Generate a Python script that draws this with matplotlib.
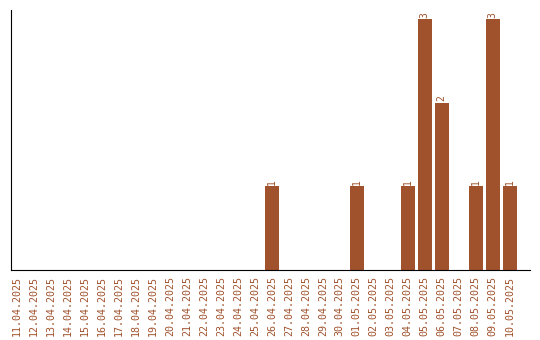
import matplotlib
matplotlib.use("Agg")
import matplotlib.pyplot as plt
import numpy as np

# Données : nombre d'événements par jour
dates = ["11.04.2025", "12.04.2025", "13.04.2025", "14.04.2025", "15.04.2025",
         "16.04.2025", "17.04.2025", "18.04.2025", "19.04.2025", "20.04.2025",
         "21.04.2025", "22.04.2025", "23.04.2025", "24.04.2025", "25.04.2025",
         "26.04.2025", "27.04.2025", "28.04.2025", "29.04.2025", "30.04.2025",
         "01.05.2025", "02.05.2025", "03.05.2025", "04.05.2025", "05.05.2025",
         "06.05.2025", "07.05.2025", "08.05.2025", "09.05.2025", "10.05.2025"]
counts = [0, 0, 0, 0, 0, 0, 0, 0, 0, 0,
          0, 0, 0, 0, 0, 1, 0, 0, 0, 0,
          1, 0, 0, 1, 3, 2, 0, 1, 3, 1]

color = "#A0522D"
plt.rcParams["font.family"] = ["DejaVu Sans Mono"]

fig = plt.figure(figsize=(5.4, 3.4), dpi=100)
ax = fig.add_axes([0.0204, 0.2059, 0.9611, 0.7647])

x = np.arange(len(dates))
bars = ax.bar(x, counts, width=0.82, color=color)

# Étiquettes de valeurs au-dessus des barres (sauf zéros)
for xi, c in zip(x, counts):
    if c > 0:
        ax.annotate(str(c), xy=(xi, c), xytext=(0, 1), textcoords="offset points",
                    ha="center", va="bottom", rotation=90, fontsize=7, color=color)

ax.set_xlim(-0.35, 30.2)
ax.set_ylim(0, 3.11)
ax.set_xticks(x)
ax.set_xticklabels(dates, rotation=90, fontsize=7.2, color=color)
ax.tick_params(axis="x", length=0, pad=4)
ax.set_yticks([])
ax.spines["top"].set_visible(False)
ax.spines["right"].set_visible(False)

plt.savefig("out.png", dpi=100)
